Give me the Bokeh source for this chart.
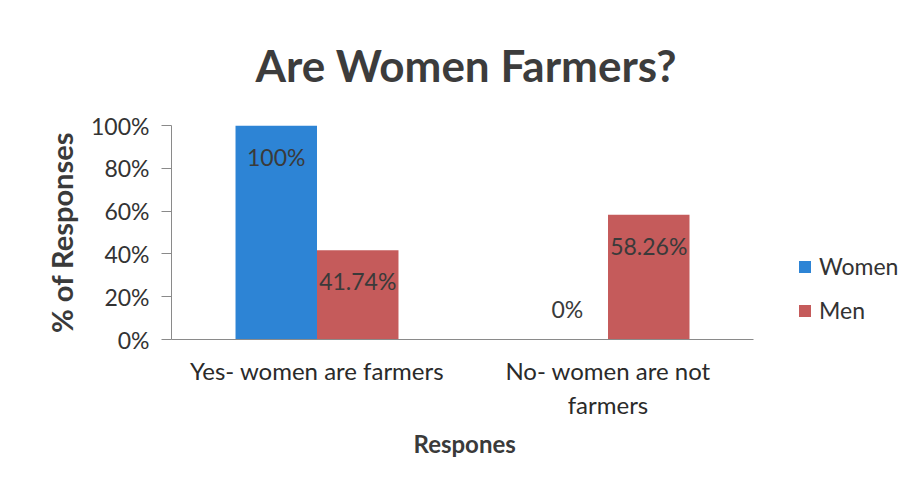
from bokeh.plotting import figure
from bokeh.models import (ColumnDataSource, Range1d, Legend, LegendItem, Title,
                          NumeralTickFormatter, LabelSet, FixedTicker)
from bokeh.core.properties import value
from bokeh.transform import dodge
from bokeh.embed import file_html
from bokeh.resources import INLINE

categories = ["Yes- women are farmers", "No- women are not\nfarmers"]
series = ["Women", "Men"]
women = [1.00, 0.00]
men = [0.4174, 0.5826]
women_labels = ["100%", "0%"]
men_labels = ["41.74%", "58.26%"]
colors = {"Women": "#2D84D5", "Men": "#C55B5B"}

FONT = "Lato"

idx = list(range(len(categories)))
src = ColumnDataSource(dict(
    x=idx, women=women, men=men,
    wl=women_labels, ml=men_labels,
    woff=[-31 if v > 0 else 31 for v in women],
    moff=[-31 if v > 0 else 31 for v in men],
))

p = figure(width=919, height=490, x_range=Range1d(-0.5, 2.036), y_range=Range1d(0, 1.0),
           output_backend="svg", toolbar_location=None,
           min_border_left=171, min_border_right=10, min_border_top=125, min_border_bottom=151)

bw = 0.28
r_w = p.vbar(x=dodge("x", -bw / 2), top="women", width=bw, source=src,
             color=colors["Women"], line_color=None)
r_m = p.vbar(x=dodge("x", bw / 2), top="men", width=bw, source=src,
             color=colors["Men"], line_color=None)

for xcol, ycol, tcol, ocol in [(-bw / 2, "women", "wl", "woff"), (bw / 2, "men", "ml", "moff")]:
    lbl = LabelSet(x=dodge("x", xcol), y=ycol, text=tcol, y_offset=ocol,
                   source=src, text_align="center", text_baseline="middle",
                   text_font=value(FONT), text_font_size="23px", text_color="#3a3a3a")
    p.add_layout(lbl)

p.title = Title(text="Are Women Farmers?", align="left", text_font=FONT,
                text_font_size="44px", text_font_style="bold", text_color="#3c3c3c",
                standoff=69, offset=84)

p.xgrid.grid_line_color = None
p.ygrid.grid_line_color = None
p.outline_line_color = None

p.yaxis.formatter = NumeralTickFormatter(format="0%")
p.yaxis.ticker = [0, 0.2, 0.4, 0.6, 0.8, 1.0]
p.yaxis.major_tick_out = 10
p.yaxis.major_tick_in = 0
p.yaxis.minor_tick_line_color = None
p.yaxis.axis_line_color = "#8a8a8a"
p.yaxis.major_tick_line_color = "#8a8a8a"
p.yaxis.major_label_text_font = FONT
p.yaxis.major_label_text_font_size = "23px"
p.yaxis.major_label_text_color = "#333333"
p.yaxis.major_label_standoff = 12
p.yaxis.axis_label = "% of Responses"
p.yaxis.axis_label_text_font = FONT
p.yaxis.axis_label_text_font_size = "29px"
p.yaxis.axis_label_text_font_style = "bold"
p.yaxis.axis_label_text_color = "#3a3a3a"
p.yaxis.axis_label_standoff = 9

p.xaxis.ticker = FixedTicker(ticks=idx)
p.xaxis.major_label_overrides = {i: c for i, c in zip(idx, categories)}
p.xaxis.bounds = (idx[0] - 0.5, idx[-1] + 0.5)
p.xaxis.major_tick_line_color = None
p.xaxis.minor_tick_line_color = None
p.xaxis.axis_line_color = "#8a8a8a"
p.xaxis.major_label_text_font = FONT
p.xaxis.major_label_text_font_size = "24px"
p.xaxis.major_label_text_color = "#2a2a2a"
p.xaxis.major_label_standoff = 10

p.add_layout(Title(text="Respones", align="left", text_font=FONT, text_font_size="24px",
                   text_font_style="bold", text_color="#3a3a3a", offset=242, standoff=9),
             "below")

legend = Legend(items=[LegendItem(label="Women", renderers=[r_w]),
                       LegendItem(label="Men", renderers=[r_m])],
                label_text_font=FONT, label_text_font_size="23px", label_text_color="#333333",
                glyph_width=15, glyph_height=15, spacing=16, border_line_color=None,
                background_fill_alpha=0,
                location=(626, 15), margin=0, padding=0, label_standoff=7)
p.add_layout(legend, "center")

open("out.html", "w").write(file_html(p, INLINE))
